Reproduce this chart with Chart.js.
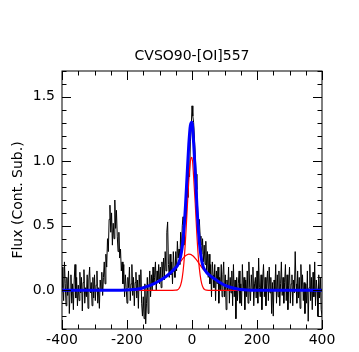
<!DOCTYPE html>
<html>
<head>
<meta charset="utf-8">
<script src="https://cdn.jsdelivr.net/npm/chart.js@4.4.1/dist/chart.umd.min.js"></script>
<style>
  html, body { margin: 0; padding: 0; background: #fff; overflow: hidden; }
  #wrap { width: 359px; height: 352px; }
</style>
</head>
<body>
<div id="wrap"><canvas id="c" width="359" height="352"></canvas></div>
<script>
// ---- data ----
const chartTitle = 'CVSO90-[OI]557';
const yAxisTitle = 'Flux (Cont. Sub.)';
const xTickValues = [-400, -200, 0, 200, 400];
const yTickValues = [0.0, 0.5, 1.0, 1.5];

const specVel = [
  -400,-397.5,-395,-392.5,-390,-387.5,-385,-382.5,-380,-377.5,-375,-372.5,-370,-367.5,-365,-362.5,-360,-357.5,-355,-352.5,
  -350,-347.5,-345,-342.5,-340,-337.5,-335,-332.5,-330,-327.5,-325,-322.5,-320,-317.5,-315,-312.5,-310,-307.5,-305,-302.5,
  -300,-297.5,-295,-292.5,-290,-287.5,-285,-282.5,-280,-277.5,-275,-272.5,-270,-267.5,-265,-262.5,-260,-257.5,-255,-252.5,
  -250,-247.5,-245,-242.5,-240,-237.5,-235,-232.5,-230,-227.5,-225,-222.5,-220,-217.5,-215,-212.5,-210,-207.5,-205,-202.5,
  -200,-197.5,-195,-192.5,-190,-187.5,-185,-182.5,-180,-177.5,-175,-172.5,-170,-167.5,-165,-162.5,-160,-157.5,-155,-152.5,
  -150,-147.5,-145,-142.5,-140,-137.5,-135,-132.5,-130,-127.5,-125,-122.5,-120,-117.5,-115,-112.5,-110,-107.5,-105,-102.5,
  -100,-97.5,-95,-92.5,-90,-87.5,-85,-82.5,-80,-77.5,-75,-72.5,-70,-67.5,-65,-62.5,-60,-57.5,-55,-52.5,
  -50,-47.5,-45,-42.5,-40,-37.5,-35,-32.5,-30,-27.5,-25,-22.5,-20,-17.5,-15,-12.5,-10,-7.5,-5,-2.5,
  0,2.5,5,7.5,10,12.5,15,17.5,20,22.5,25,27.5,30,32.5,35,37.5,40,42.5,45,47.5,
  50,52.5,55,57.5,60,62.5,65,67.5,70,72.5,75,77.5,80,82.5,85,87.5,90,92.5,95,97.5,
  100,102.5,105,107.5,110,112.5,115,117.5,120,122.5,125,127.5,130,132.5,135,137.5,140,142.5,145,147.5,
  150,152.5,155,157.5,160,162.5,165,167.5,170,172.5,175,177.5,180,182.5,185,187.5,190,192.5,195,197.5,
  200,202.5,205,207.5,210,212.5,215,217.5,220,222.5,225,227.5,230,232.5,235,237.5,240,242.5,245,247.5,
  250,252.5,255,257.5,260,262.5,265,267.5,270,272.5,275,277.5,280,282.5,285,287.5,290,292.5,295,297.5,
  300,302.5,305,307.5,310,312.5,315,317.5,320,322.5,325,327.5,330,332.5,335,337.5,340,342.5,345,347.5,
  350,352.5,355,357.5,360,362.5,365,367.5,370,372.5,375,377.5,380,382.5,385,387.5,390,392.5,395,397.5,
  400
];
const specFlux = [
  0.18,0.02,-0.08,0.22,0.05,-0.12,0.10,-0.04,0.15,-0.18,0.00,0.12,-0.10,0.05,-0.15,0.08,0.20,-0.06,0.10,-0.12,
  0.04,-0.08,0.14,-0.02,0.10,-0.16,0.06,0.16,-0.10,0.02,-0.05,0.12,-0.14,0.08,0.18,-0.02,0.06,-0.12,0.10,-0.06,
  0.12,-0.08,0.04,0.15,-0.10,0.02,-0.14,0.08,0.00,0.14,-0.04,0.10,0.22,0.05,0.28,0.18,0.40,0.30,0.55,0.66,
  0.45,0.60,0.35,0.52,0.40,0.70,0.48,0.62,0.42,0.30,0.45,0.25,0.32,0.15,0.22,0.05,0.20,-0.05,0.12,0.02,
  -0.10,0.10,0.02,0.18,-0.08,0.05,0.20,-0.04,0.10,-0.12,0.06,0.14,-0.06,0.08,-0.14,0.12,0.00,0.16,-0.10,-0.20,
  -0.05,-0.22,0.05,-0.26,-0.10,0.10,-0.18,0.02,0.15,-0.05,0.12,0.00,0.18,0.05,0.10,0.22,0.00,0.15,0.08,0.20,
  0.05,0.18,0.02,0.22,0.10,0.25,0.08,0.30,0.15,0.45,0.53,0.20,0.10,0.28,0.12,0.22,0.05,0.30,0.18,0.10,
  0.30,0.15,0.38,0.25,0.32,0.20,0.45,0.30,0.50,0.57,0.35,0.50,0.62,0.55,0.80,0.72,0.95,0.88,1.15,1.25,
  1.43,1.35,1.30,1.18,1.05,0.90,0.78,0.62,0.50,0.55,0.42,0.35,0.28,0.40,0.22,0.35,0.20,0.38,0.15,0.30,
  0.10,0.28,0.05,0.20,-0.05,0.22,0.12,0.02,0.20,-0.08,0.15,0.05,0.18,-0.10,0.10,0.00,0.20,-0.05,0.12,0.22,
  -0.05,0.12,-0.15,0.08,0.00,0.18,-0.10,0.10,-0.02,0.15,-0.12,0.20,-0.05,0.08,-0.22,0.10,-0.08,0.05,0.15,-0.10,
  0.05,-0.12,0.20,0.00,0.10,-0.15,0.08,-0.05,0.15,-0.10,0.22,0.02,-0.08,0.12,0.00,0.18,-0.12,0.05,0.10,-0.06,
  0.15,-0.10,0.25,0.02,-0.05,0.12,-0.15,0.08,0.20,-0.05,0.10,-0.12,0.05,0.15,-0.08,0.18,-0.02,0.10,-0.18,0.06,
  -0.20,0.08,0.00,0.20,-0.10,0.12,-0.05,0.15,-0.12,0.05,0.22,-0.04,0.10,-0.10,0.06,0.20,-0.08,0.12,-0.15,0.04,
  0.18,-0.10,0.05,0.12,-0.12,0.08,-0.02,0.30,0.05,-0.10,0.15,-0.06,0.10,-0.14,0.20,0.00,0.12,-0.08,0.06,-0.18,
  0.05,-0.10,0.15,-0.24,0.02,0.20,-0.08,0.10,-0.15,0.14,-0.05,0.22,-0.12,0.08,0.00,-0.20,0.12,-0.06,0.10,-0.15,
  -0.20
];

const fitVel = [
  -400,-300,-200,-180,-160,-140,-120,-100,-90,-80,-70,-60,-50,-45,-40,-35,-30,-25,-20,-15,-10,-5,
  0,5,10,15,20,25,30,35,40,45,50,60,70,80,90,100,120,140,160,180,200,300,400
];
const fitTotal = [
  0,0,0.003,0.006,0.012,0.028,0.048,0.075,0.09,0.107,0.127,0.15,0.176,0.191,0.219,0.262,0.338,0.465,0.658,0.896,1.125,1.278,
  1.302,1.142,0.918,0.662,0.453,0.315,0.228,0.179,0.155,0.138,0.125,0.105,0.087,0.07,0.054,0.04,0.022,0.01,0.004,0.001,0,0,0
];
const fitNarrow = [
  0,0,0,0,0,0,0,0,0,0,0,0,0.001,0.003,0.014,0.04,0.098,0.21,0.39,0.62,0.845,1.0,
  1.03,0.88,0.67,0.43,0.24,0.12,0.05,0.017,0.005,0.001,0,0,0,0,0,0,0,0,0,0,0,0,0
];
const fitBroad = [
  0,0,0.003,0.006,0.012,0.028,0.048,0.075,0.09,0.107,0.127,0.15,0.175,0.188,0.205,0.222,0.24,0.255,0.268,0.276,0.28,0.278,
  0.272,0.262,0.248,0.232,0.213,0.195,0.178,0.162,0.15,0.137,0.125,0.105,0.087,0.07,0.054,0.04,0.022,0.01,0.004,0.001,0,0,0
];

// ---- build chart ----
const pts = (xs, ys) => xs.map((v, i) => ({ x: v, y: ys[i] }));
const FONT = 'DejaVu Sans';
Chart.defaults.font.family = FONT;
Chart.defaults.color = '#000';

const framePlugin = {
  id: 'frame',
  afterDatasetsDraw(chart) {
    const { ctx, chartArea: a, scales: { x, y } } = chart;
    ctx.save();
    ctx.strokeStyle = '#000';
    ctx.lineWidth = 1;
    ctx.strokeRect(a.left, a.top, a.right - a.left, a.bottom - a.top);
    ctx.beginPath();
    for (let k = -8; k <= 8; k++) {
      const px = Math.round(x.getPixelForValue(k * 50)) + 0.5;
      const len = (k % 4 === 0) ? 9 : 4.5;
      ctx.moveTo(px, a.bottom); ctx.lineTo(px, a.bottom - len);
      ctx.moveTo(px, a.top); ctx.lineTo(px, a.top + len);
    }
    for (let k = -3; k <= 17; k++) {
      const py = Math.round(y.getPixelForValue(k / 10)) + 0.5;
      const len = (k % 5 === 0) ? 9 : 4.5;
      ctx.moveTo(a.left, py); ctx.lineTo(a.left + len, py);
      ctx.moveTo(a.right, py); ctx.lineTo(a.right - len, py);
    }
    ctx.stroke();
    ctx.restore();
  }
};

new Chart(document.getElementById('c'), {
  type: 'line',
  data: {
    datasets: [
      { label: 'total fit', data: pts(fitVel, fitTotal), borderColor: '#0000ff', borderWidth: 3,
        cubicInterpolationMode: 'monotone', pointRadius: 0, fill: false },
      { label: 'narrow', data: pts(fitVel, fitNarrow), borderColor: '#ff0000', borderWidth: 1.2,
        cubicInterpolationMode: 'monotone', pointRadius: 0, fill: false },
      { label: 'broad', data: pts(fitVel, fitBroad), borderColor: '#ff0000', borderWidth: 1.2,
        cubicInterpolationMode: 'monotone', pointRadius: 0, fill: false },
      { label: 'spectrum', data: pts(specVel, specFlux), borderColor: '#000000', borderWidth: 1,
        tension: 0, pointRadius: 0, fill: false }
    ]
  },
  options: {
    responsive: false,
    animation: false,
    events: [],
    layout: { padding: { left: 0, right: 37, top: 0, bottom: 0 } },
    plugins: {
      legend: { display: false },
      tooltip: { enabled: false },
      title: {
        display: true, fullSize: false, text: chartTitle, color: '#000',
        font: { family: FONT, size: 14, weight: 'normal', lineHeight: 1.2 },
        padding: { top: 47.6, bottom: 6.6 }
      }
    },
    scales: {
      x: {
        type: 'linear', min: -400, max: 400,
        afterBuildTicks: s => { s.ticks = xTickValues.map(v => ({ value: v })); },
        afterFit: s => { s.height = 23; },
        grid: { display: false, drawTicks: false },
        border: { display: false },
        ticks: { padding: 3, autoSkip: false, maxRotation: 0, color: '#000',
                 font: { family: FONT, size: 14 }, callback: v => String(v) }
      },
      y: {
        type: 'linear', min: -0.3, max: 1.7,
        afterBuildTicks: s => { s.ticks = yTickValues.map(v => ({ value: v })); },
        afterFit: s => { s.width = 62; },
        grid: { display: false, drawTicks: false },
        border: { display: false },
        ticks: { padding: 7, color: '#000', font: { family: FONT, size: 14 },
                 callback: v => Number(v).toFixed(1) },
        title: { display: true, text: yAxisTitle, color: '#000',
                 font: { family: FONT, size: 14, lineHeight: 1.2 }, padding: { top: 10, bottom: 0 } }
      }
    }
  },
  plugins: [framePlugin]
});
</script>
</body>
</html>
